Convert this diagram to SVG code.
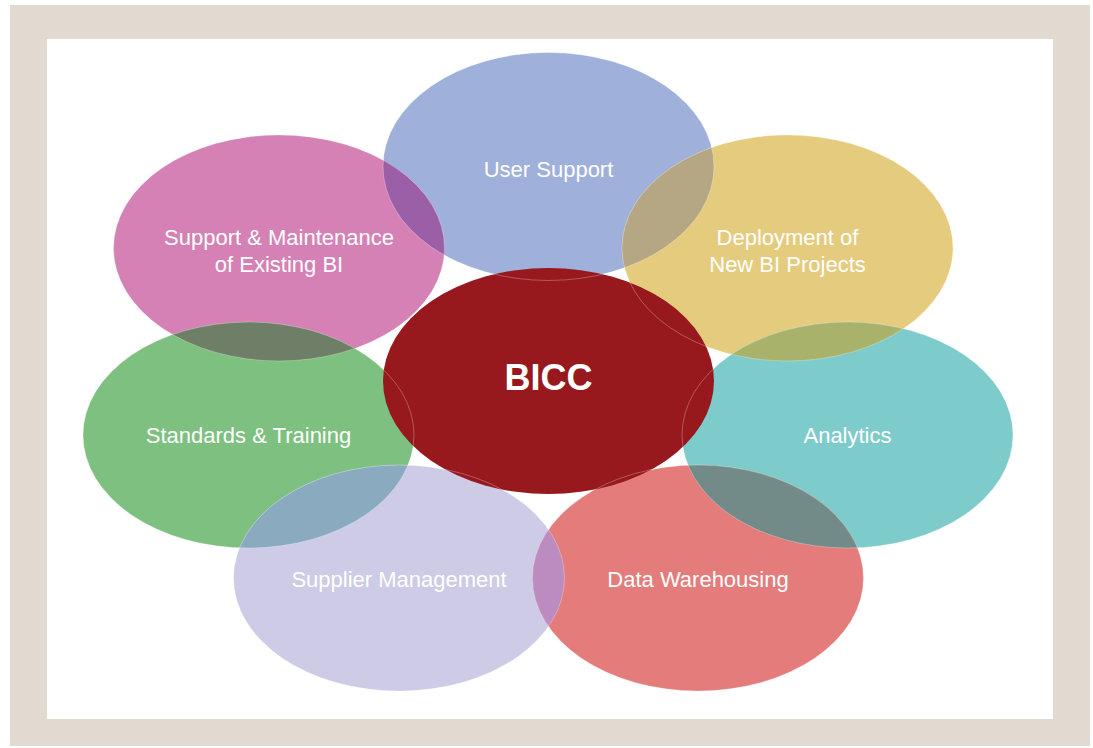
<svg xmlns="http://www.w3.org/2000/svg" width="1093" height="748" viewBox="0 0 1093 748">
  <style>
    .lbl { font-family: "Liberation Sans", Arial, sans-serif; font-size: 22px; fill: #ffffff; text-anchor: middle; }
    .core { font-family: "Liberation Sans", Arial, sans-serif; font-size: 36px; font-weight: bold; fill: #ffffff; text-anchor: middle; }
    .edge { fill: none; stroke: #ffffff; stroke-opacity: 0.35; stroke-width: 0.8; }
  </style>
  <defs>
    <ellipse id="e-user" cx="548.5" cy="166.5" rx="165.5" ry="114"/>
    <ellipse id="e-maint" cx="279" cy="248" rx="165.5" ry="113"/>
    <ellipse id="e-deploy" cx="787.5" cy="248" rx="165.5" ry="113"/>
    <ellipse id="e-std" cx="248.5" cy="435" rx="165.5" ry="113"/>
    <ellipse id="e-anal" cx="847.5" cy="435" rx="165.5" ry="113"/>
    <ellipse id="e-supp" cx="399" cy="578" rx="165.5" ry="113"/>
    <ellipse id="e-dw" cx="698" cy="578" rx="165.5" ry="113"/>
    <ellipse id="e-bicc" cx="548.5" cy="381" rx="165.5" ry="113"/>
    <clipPath id="c-user"><use href="#e-user"/></clipPath>
    <clipPath id="c-deploy"><use href="#e-deploy"/></clipPath>
    <clipPath id="c-maint"><use href="#e-maint"/></clipPath>
    <clipPath id="c-anal"><use href="#e-anal"/></clipPath>
    <clipPath id="c-std"><use href="#e-std"/></clipPath>
    <clipPath id="c-supp"><use href="#e-supp"/></clipPath>
    <clipPath id="c-bicc"><use href="#e-bicc"/></clipPath>
  </defs>

  <!-- frame -->
  <rect x="10" y="5" width="1080" height="741" fill="#e2dad1"/>
  <rect x="47" y="39" width="1006" height="680" fill="#ffffff"/>

  <!-- outer circles -->
  <g id="node-user-support">
    <use href="#e-user" fill="#9fb0da"/>
  </g>
  <g id="node-support-maintenance">
    <use href="#e-maint" fill="#d581b5"/>
  </g>
  <g id="node-deployment">
    <use href="#e-deploy" fill="#e5cb7e"/>
  </g>
  <g id="node-standards">
    <use href="#e-std" fill="#7dc080"/>
  </g>
  <g id="node-analytics">
    <use href="#e-anal" fill="#7ecbcb"/>
  </g>
  <g id="node-supplier">
    <use href="#e-supp" fill="#cdcbe6"/>
  </g>
  <g id="node-data-warehousing">
    <use href="#e-dw" fill="#e47c7b"/>
  </g>

  <!-- overlap lenses between neighbouring circles -->
  <g id="overlaps">
    <use href="#e-maint" fill="#9b5fa7" clip-path="url(#c-user)"/>
    <use href="#e-deploy" fill="#b5a784" clip-path="url(#c-user)"/>
    <use href="#e-std" fill="#6f7e66" clip-path="url(#c-maint)"/>
    <use href="#e-anal" fill="#a8b26a" clip-path="url(#c-deploy)"/>
    <use href="#e-dw" fill="#728b89" clip-path="url(#c-anal)"/>
    <use href="#e-dw" fill="#bc8bbf" clip-path="url(#c-supp)"/>
    <use href="#e-supp" fill="#8aaabf" clip-path="url(#c-std)"/>
  </g>

  <!-- faint rims -->
  <g id="rims">
    <use href="#e-user" class="edge"/>
    <use href="#e-maint" class="edge"/>
    <use href="#e-deploy" class="edge"/>
    <use href="#e-std" class="edge"/>
    <use href="#e-anal" class="edge"/>
    <use href="#e-supp" class="edge"/>
    <use href="#e-dw" class="edge"/>
  </g>

  <!-- centre -->
  <g id="node-bicc">
    <use href="#e-bicc" fill="#97191e"/>
    <g clip-path="url(#c-bicc)">
      <use href="#e-user" class="edge"/>
      <use href="#e-maint" class="edge"/>
      <use href="#e-deploy" class="edge"/>
      <use href="#e-std" class="edge"/>
      <use href="#e-anal" class="edge"/>
      <use href="#e-supp" class="edge"/>
      <use href="#e-dw" class="edge"/>
    </g>
    <text class="core" x="548.5" y="390">BICC</text>
  </g>

  <!-- labels -->
  <g id="labels">
    <text class="lbl" x="548.5" y="177">User Support</text>
    <text class="lbl" x="279" y="245">Support &amp; Maintenance</text>
    <text class="lbl" x="279" y="272">of Existing BI</text>
    <text class="lbl" x="787.5" y="245">Deployment of</text>
    <text class="lbl" x="787.5" y="272">New BI Projects</text>
    <text class="lbl" x="248.5" y="443">Standards &amp; Training</text>
    <text class="lbl" x="847.5" y="443">Analytics</text>
    <text class="lbl" x="399" y="587">Supplier Management</text>
    <text class="lbl" x="698" y="587">Data Warehousing</text>
  </g>

  <!-- no connectors in this figure -->
  <g id="connectors"/>
</svg>
